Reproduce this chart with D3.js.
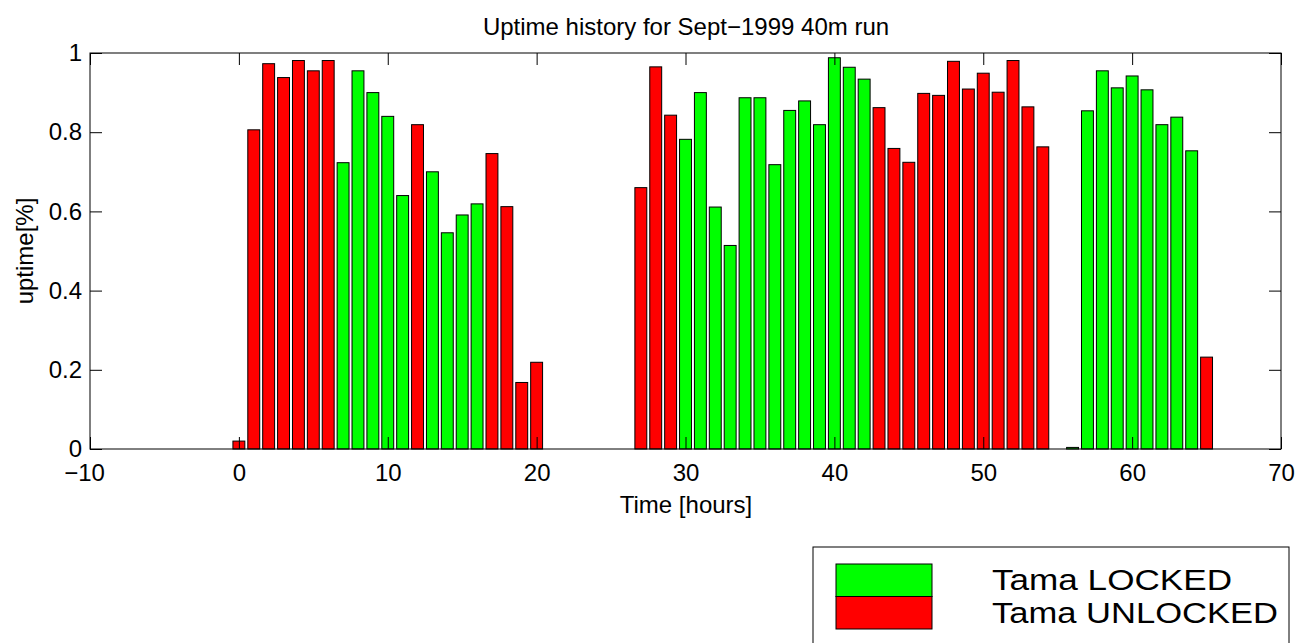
<!DOCTYPE html>
<html>
<head>
<meta charset="utf-8">
<script src="https://cdn.jsdelivr.net/npm/d3@7"></script>
<style>
body { margin: 0; background: #fff; }
text { font-family: "Liberation Sans", Arial, sans-serif; }
</style>
</head>
<body>
<div id="món"></div>
<script>
// hores i fracció de temps en marxa
const hores = [0,1,2,3,4,5,6,7,8,9,10,11,12,13,14,15,16,17,18,19,20,
	27,28,29,30,31,32,33,34,35,36,37,38,39,40,41,42,43,44,45,46,47,48,49,50,51,52,53,54,
	56,57,58,59,60,61,62,63,64,65];
const uptime = [0.02,0.806,0.973,0.938,0.981,0.955,0.981,0.723,0.955,0.900,0.840,0.640,0.819,0.700,0.546,0.591,0.619,0.746,0.612,0.168,0.219,
	0.660,0.965,0.843,0.782,0.900,0.611,0.514,0.887,0.887,0.718,0.855,0.879,0.819,0.988,0.964,0.934,0.862,0.759,0.724,0.898,0.893,0.979,0.909,0.949,0.901,0.981,0.864,0.763,
	0.004,0.854,0.955,0.912,0.942,0.907,0.819,0.838,0.753,0.232];
// 1 = Tama LOCKED, 0 = Tama UNLOCKED
const bloquejat = [0,0,0,0,0,0,0,1,1,1,1,1,0,1,1,1,1,0,0,0,0,
	0,0,0,1,1,1,1,1,1,1,1,1,1,1,1,1,0,0,0,0,0,0,0,0,0,0,0,0,
	1,1,1,1,1,1,1,1,1,0];
const xTicks = [-10,0,10,20,30,40,50,60,70];
const yTicks = [0,0.2,0.4,0.6,0.8,1];
const llegenda = ['Tama LOCKED', 'Tama UNLOCKED'];
const colors = ['#ff0000', '#00ff00'];

const Amplada = 1301, Alçada = 643;
const marge = {esquerra: 90, dreta: 1281, dalt: 53, baix: 449};
const lletra = 24;

const svg = d3.select('#món').append('svg')
	.attr('width', Amplada)
	.attr('height', Alçada);

const x = d3.scaleLinear().domain([-10, 70]).range([marge.esquerra, marge.dreta]);
const y = d3.scaleLinear().domain([0, 1]).range([marge.baix, marge.dalt]);

const amp = (x(1) - x(0)) * 0.8;

// barres
svg.append('g').selectAll('rect')
	.data(hores)
	.join('rect')
		.attr('x', (d) => x(d) - amp/2)
		.attr('y', (d, i) => y(uptime[i]))
		.attr('width', amp)
		.attr('height', (d, i) => y(0) - y(uptime[i]))
		.attr('fill', (d, i) => colors[bloquejat[i]])
		.attr('stroke', '#000')
		.attr('stroke-width', 1);

// eixos (ticks cap a dins, com a MATLAB)
const tl = 12;
const eixX = svg.append('g').attr('transform', `translate(0,${marge.baix})`)
	.call(d3.axisBottom(x).tickValues(xTicks).tickSize(-tl).tickPadding(15).tickFormat(d3.format('d')));
const eixXd = svg.append('g').attr('transform', `translate(0,${marge.dalt})`)
	.call(d3.axisTop(x).tickValues(xTicks).tickSize(-tl).tickFormat(''));
const eixY = svg.append('g').attr('transform', `translate(${marge.esquerra},0)`)
	.call(d3.axisLeft(y).tickValues(yTicks).tickSize(-tl).tickPadding(8).tickFormat(d3.format('~g')));
const eixYd = svg.append('g').attr('transform', `translate(${marge.dreta},0)`)
	.call(d3.axisRight(y).tickValues(yTicks).tickSize(-tl).tickFormat(''));

for (const e of [eixX, eixXd, eixY, eixYd]) {
	e.select('.domain').remove();
	e.selectAll('line').attr('stroke', '#000');
	e.selectAll('text').attr('font-size', lletra).attr('fill', '#000')
		.style('font-family', '"Liberation Sans", Arial, sans-serif');
}
// el −10 queda una mica a l'esquerra, com a l'original
eixX.selectAll('.tick').filter((d) => d < 0).select('text').attr('dx', -6);

svg.append('rect')
	.attr('x', marge.esquerra).attr('y', marge.dalt)
	.attr('width', marge.dreta - marge.esquerra).attr('height', marge.baix - marge.dalt)
	.attr('fill', 'none').attr('stroke', '#000').attr('stroke-width', 1);

// textos
svg.append('text').attr('x', 686).attr('y', 35).attr('text-anchor', 'middle')
	.attr('font-size', lletra).text('Uptime history for Sept\u22121999 40m run');
svg.append('text').attr('x', 686).attr('y', 513).attr('text-anchor', 'middle')
	.attr('font-size', lletra).text('Time [hours]');
svg.append('text').attr('transform', 'translate(33,251) rotate(-90)').attr('text-anchor', 'middle')
	.attr('font-size', lletra).text('uptime[%]');

// llegenda
const lg = svg.append('g');
lg.append('rect').attr('x', 813).attr('y', 547).attr('width', 476).attr('height', 110)
	.attr('fill', '#fff').attr('stroke', '#000').attr('stroke-width', 1);
llegenda.forEach((nom, i) => {
	const c = colors[1 - i];
	lg.append('rect').attr('x', 836).attr('y', 564 + i*32.5).attr('width', 96).attr('height', 32.5)
		.attr('fill', c).attr('stroke', '#000').attr('stroke-width', 1);
	lg.append('text').attr('x', 992).attr('y', 590 + i*33).attr('font-size', 30)
		.attr('textLength', i == 0 ? 240 : 286).attr('lengthAdjust', 'spacingAndGlyphs')
		.text(nom);
});
</script>
</body>
</html>
